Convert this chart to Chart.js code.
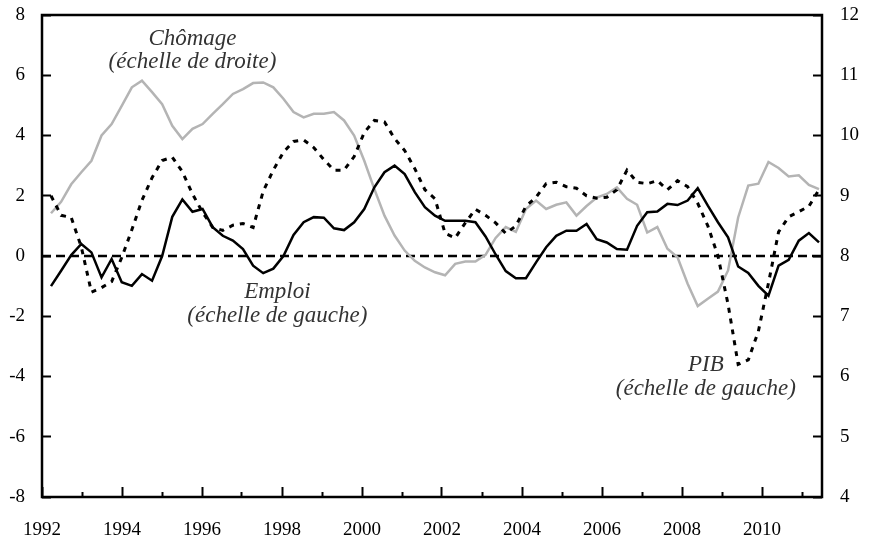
<!DOCTYPE html>
<html>
<head>
<meta charset="utf-8">
<script src="https://cdn.jsdelivr.net/npm/chart.js@4"></script>
<style>
  html, body { margin: 0; padding: 0; background: #fff; }
</style>
</head>
<body>
<canvas id="chart" width="878" height="549"></canvas>
<script>
// quarterly series, 1992 T1 onward (77 quarters)
const emploi = [
  -1.0, -0.49, 0.03, 0.4, 0.12, -0.71, -0.1, -0.87, -0.99, -0.6, -0.82, 0.0,
  1.3, 1.88, 1.47, 1.56, 0.96, 0.67, 0.51, 0.23, -0.32, -0.57, -0.42, 0.0,
  0.7, 1.12, 1.29, 1.27, 0.92, 0.86, 1.12, 1.56, 2.28, 2.78, 3.0, 2.72,
  2.12, 1.62, 1.34, 1.17, 1.17, 1.17, 1.12, 0.65, 0.05, -0.5, -0.74, -0.74,
  -0.21, 0.29, 0.67, 0.84, 0.84, 1.06, 0.56, 0.45, 0.23, 0.21, 1.0, 1.45,
  1.48, 1.73, 1.69, 1.84, 2.25, 1.67, 1.12, 0.62, -0.35, -0.56, -0.99, -1.32,
  -0.32, -0.13, 0.51, 0.76, 0.45
];
const pib = [
  2.0, 1.35, 1.28, 0.3, -1.2, -1.05, -0.85, -0.05, 0.87, 1.85, 2.6, 3.17,
  3.28, 2.8, 2.06, 1.45, 0.95, 0.85, 1.02, 1.08, 0.95, 2.15, 2.85, 3.45,
  3.8, 3.85, 3.6, 3.2, 2.85, 2.85, 3.3, 4.1, 4.5, 4.45, 3.9, 3.5,
  2.9, 2.2, 1.9, 0.75, 0.6, 1.1, 1.55, 1.35, 1.1, 0.75, 1.0, 1.65,
  1.95, 2.4, 2.45, 2.3, 2.25, 2.0, 1.92, 1.95, 2.2, 2.85, 2.45, 2.4,
  2.5, 2.2, 2.5, 2.3, 1.75, 1.0, 0.0, -1.6, -3.6, -3.45, -2.5, -0.9,
  0.8, 1.3, 1.47, 1.65, 2.2
];
const chomage = [
  8.71, 8.9, 9.19, 9.39, 9.58, 10.0, 10.19, 10.49, 10.8, 10.91, 10.72, 10.52,
  10.16, 9.94, 10.11, 10.19, 10.36, 10.52, 10.69, 10.77, 10.87, 10.88, 10.8, 10.61,
  10.39, 10.3, 10.36, 10.36, 10.39, 10.25, 10.0, 9.58, 9.11, 8.67, 8.34, 8.09,
  7.92, 7.81, 7.73, 7.68, 7.87, 7.91, 7.91, 8.02, 8.3, 8.48, 8.4, 8.78,
  8.92, 8.78, 8.85, 8.89, 8.67, 8.83, 8.97, 9.03, 9.14, 8.95, 8.85, 8.39,
  8.48, 8.12, 7.98, 7.54, 7.17, 7.29, 7.41, 7.76, 8.64, 9.17, 9.2, 9.56,
  9.46, 9.32, 9.34, 9.18, 9.11
];

const yearLabels = [1992, 1994, 1996, 1998, 2000, 2002, 2004, 2006, 2008, 2010];
const minorYears = [1993, 1995, 1997, 1999, 2001, 2003, 2005, 2007, 2009, 2011];
const leftTicks = [-8, -6, -4, -2, 0, 2, 4, 6, 8];
const rightTicks = [4, 5, 6, 7, 8, 9, 10, 11, 12];

// text notes: x in quarters, baselines on the left scale
const notes = [
  { lines: ['Chômage', '(échelle de droite)'], at: 14, levels: [7.0, 6.24] },
  { lines: ['Emploi', '(échelle de gauche)'], at: 22.4, levels: [-1.39, -2.19] },
  { lines: ['PIB', '(échelle de gauche)'], at: 64.8, levels: [-3.82, -4.61] }
];

const serif = "'Liberation Serif', 'Times New Roman', serif";
const toPoints = arr => arr.map((v, i) => ({ x: i, y: v }));
const setTicks = list => scale => { scale.ticks = list.map(v => ({ value: v })); };
// fixed box size, no extra label overhang padding
const fixBox = (w, h) => s => {
  if (w !== null) s.width = w;
  if (h !== null) s.height = h;
  s.paddingLeft = s.paddingRight = s.paddingTop = s.paddingBottom = 0;
};

const frame = {
  id: 'frame',
  afterDatasetsDraw(chart) {
    const { ctx, chartArea: a } = chart;
    ctx.save();
    ctx.strokeStyle = '#000';
    ctx.lineWidth = 2.5;
    ctx.strokeRect(a.left, a.top, a.right - a.left, a.bottom - a.top);
    ctx.restore();
  }
};

const zeroLine = {
  id: 'zeroLine',
  beforeDatasetsDraw(chart) {
    const { ctx, chartArea: a } = chart;
    const y = chart.scales.y.getPixelForValue(0);
    ctx.save();
    ctx.strokeStyle = '#000';
    ctx.lineWidth = 2.5;
    ctx.setLineDash([9, 5]);
    ctx.beginPath();
    ctx.moveTo(a.left, y);
    ctx.lineTo(a.right, y);
    ctx.stroke();
    ctx.restore();
  }
};

const noteText = {
  id: 'noteText',
  afterDatasetsDraw(chart) {
    const { ctx } = chart;
    const sx = chart.scales.x, sy = chart.scales.y;
    ctx.save();
    ctx.font = 'italic 23px ' + serif;
    ctx.fillStyle = '#333';
    ctx.textAlign = 'center';
    ctx.textBaseline = 'alphabetic';
    notes.forEach(n => {
      n.lines.forEach((t, k) => {
        ctx.fillText(t, sx.getPixelForValue(n.at), sy.getPixelForValue(n.levels[k]));
      });
    });
    ctx.restore();
  }
};

const tickFont = { family: serif, size: 19 };

new Chart(document.getElementById('chart'), {
  type: 'line',
  data: {
    datasets: [
      { label: 'Emploi', data: toPoints(emploi), yAxisID: 'y', borderColor: '#000', borderWidth: 2.5 },
      { label: 'PIB', data: toPoints(pib), yAxisID: 'y', borderColor: '#000', borderWidth: 3, borderDash: [5, 6] },
      { label: 'Chômage', data: toPoints(chomage), yAxisID: 'y2', borderColor: '#b4b4b4', borderWidth: 2.5 }
    ]
  },
  options: {
    responsive: false,
    animation: false,
    layout: { padding: { top: 15, left: 0, right: 0, bottom: 0 } },
    elements: {
      point: { radius: 0 },
      line: { tension: 0, fill: false, borderCapStyle: 'butt' }
    },
    plugins: { legend: { display: false }, tooltip: { enabled: false } },
    scales: {
      x: {
        type: 'linear', position: 'bottom', min: -0.891, max: 76.297,
        ticks: { display: false },
        grid: { display: false },
        border: { display: false },
        afterFit: fixBox(null, 0)
      },
      xMinor: {
        type: 'linear', position: 'bottom', min: 1992, max: 2011.5,
        afterBuildTicks: setTicks(minorYears),
        ticks: { display: false },
        grid: { drawOnChartArea: false, tickLength: -5, tickColor: '#000', tickWidth: 2 },
        border: { display: false },
        afterFit: fixBox(null, 0)
      },
      xMajor: {
        type: 'linear', position: 'bottom', min: 1992, max: 2011.5,
        afterBuildTicks: setTicks(yearLabels),
        ticks: { font: tickFont, color: '#000', padding: 32, maxRotation: 0, autoSkip: false, callback: v => String(v) },
        grid: { drawOnChartArea: false, tickLength: -10, tickColor: '#000', tickWidth: 2 },
        border: { display: false },
        afterFit: fixBox(null, 52)
      },
      y: {
        position: 'left', min: -8, max: 8,
        afterBuildTicks: setTicks(leftTicks),
        ticks: { font: tickFont, color: '#000', padding: 26, callback: v => String(v) },
        grid: { drawOnChartArea: false, tickLength: -9, tickColor: '#000', tickWidth: 2 },
        border: { display: false },
        afterFit: fixBox(42, null)
      },
      y2: {
        position: 'right', min: 4, max: 12,
        afterBuildTicks: setTicks(rightTicks),
        ticks: { font: tickFont, color: '#000', padding: 27, callback: v => String(v) },
        grid: { drawOnChartArea: false, tickLength: -9, tickColor: '#000', tickWidth: 2 },
        border: { display: false },
        afterFit: fixBox(56, null)
      }
    }
  },
  plugins: [zeroLine, frame, noteText]
});
</script>
</body>
</html>
